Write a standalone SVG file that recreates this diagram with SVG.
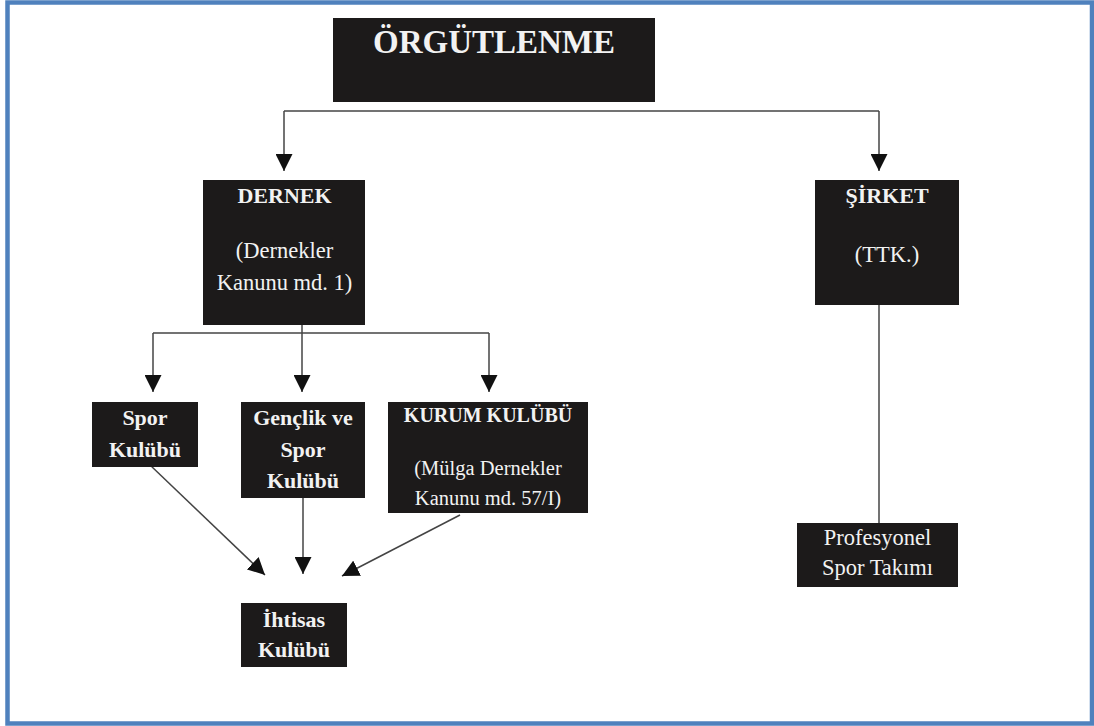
<svg xmlns="http://www.w3.org/2000/svg" width="1094" height="726" viewBox="0 0 1094 726">
<defs>
<marker id="ah" markerUnits="userSpaceOnUse" markerWidth="17" markerHeight="17" refX="16" refY="8" orient="auto" viewBox="0 0 16 16">
<path d="M0,0 L16,8 L0,16 z" fill="#111"/>
</marker>
<style>
.box{fill:#1c1a1a;}
.b{font-family:"Liberation Serif","Times New Roman",serif;font-weight:bold;fill:#f2f2f2;text-anchor:middle;}
.r{font-family:"Liberation Serif","Times New Roman",serif;fill:#f2f2f2;text-anchor:middle;}
.ln{stroke:#444;stroke-width:1.5;fill:none;}
.arr{stroke:#444;stroke-width:1.5;fill:none;marker-end:url(#ah);}
</style>
</defs>
<rect x="0" y="0" width="1094" height="726" fill="#ffffff"/>
<rect x="7.5" y="2.5" width="1084.5" height="721" fill="none" stroke="#4f81bd" stroke-width="4.5"/>

<g id="connectors">
<polyline class="ln" points="284,111 879,111"/>
<line class="arr" x1="284" y1="111" x2="284" y2="171"/>
<line class="arr" x1="879" y1="111" x2="879" y2="171"/>
<line class="ln" x1="302" y1="325" x2="302" y2="333"/>
<line class="ln" x1="153" y1="333" x2="489" y2="333"/>
<line class="arr" x1="153" y1="333" x2="153" y2="392"/>
<line class="arr" x1="302" y1="333" x2="302" y2="392"/>
<line class="arr" x1="489" y1="333" x2="489" y2="392"/>
<line class="arr" x1="150" y1="465" x2="265" y2="575"/>
<line class="arr" x1="303" y1="498" x2="303" y2="574"/>
<line class="arr" x1="460" y1="515" x2="342" y2="576"/>
<line class="ln" x1="879" y1="305" x2="879" y2="523"/>
</g>

<g id="orgutlenme">
<rect class="box" x="333" y="18" width="322" height="84"/>
<text class="b" x="494" y="53" font-size="33">ÖRGÜTLENME</text>
</g>

<g id="dernek">
<rect class="box" x="203" y="180" width="162" height="145"/>
<text class="b" x="284.5" y="203" font-size="22">DERNEK</text>
<text class="r" x="284.5" y="258" font-size="22.5">(Dernekler</text>
<text class="r" x="284.5" y="290" font-size="22.5">Kanunu md. 1)</text>
</g>

<g id="sirket">
<rect class="box" x="815" y="180" width="144" height="125"/>
<text class="b" x="887" y="203" font-size="22">ŞİRKET</text>
<text class="r" x="887" y="262" font-size="22.5">(TTK.)</text>
</g>

<g id="spor">
<rect class="box" x="92" y="402" width="106" height="65"/>
<text class="b" x="145" y="425" font-size="22">Spor</text>
<text class="b" x="145" y="457" font-size="22">Kulübü</text>
</g>

<g id="genclik">
<rect class="box" x="241" y="402" width="124" height="96"/>
<text class="b" x="303" y="425" font-size="22">Gençlik ve</text>
<text class="b" x="303" y="457" font-size="22">Spor</text>
<text class="b" x="303" y="488" font-size="22">Kulübü</text>
</g>

<g id="kurum">
<rect class="box" x="388" y="402" width="200" height="111"/>
<text class="b" x="488" y="422" font-size="20">KURUM KULÜBÜ</text>
<text class="r" x="488" y="475" font-size="20.5">(Mülga Dernekler</text>
<text class="r" x="488" y="505" font-size="20.5">Kanunu md. 57/I)</text>
</g>

<g id="ihtisas">
<rect class="box" x="241" y="603" width="106" height="64"/>
<text class="b" x="294" y="627" font-size="22">İhtisas</text>
<text class="b" x="294" y="657" font-size="22">Kulübü</text>
</g>

<g id="profesyonel">
<rect class="box" x="797" y="523" width="161" height="64"/>
<text class="r" x="877.5" y="545" font-size="22.5">Profesyonel</text>
<text class="r" x="877.5" y="575" font-size="22.5">Spor Takımı</text>
</g>
</svg>
